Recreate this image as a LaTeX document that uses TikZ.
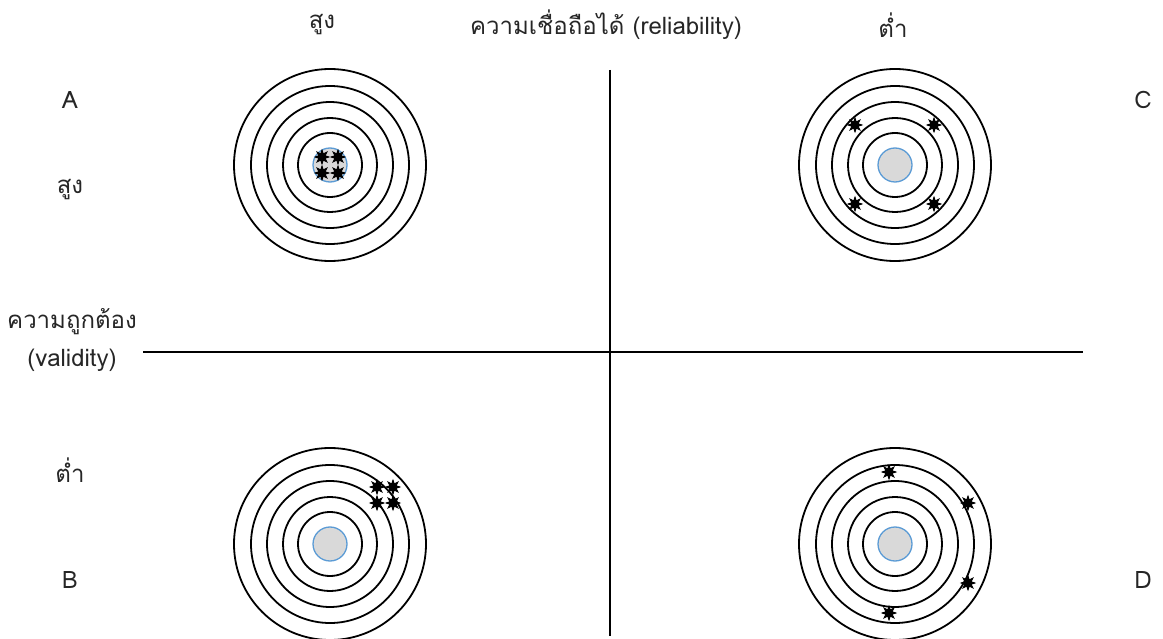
\documentclass[tikz,border=0pt]{standalone}
\usepackage{fontspec}
\setmainfont[Script=Thai]{Loma}
\usetikzlibrary{shapes.geometric}
\definecolor{bullfill}{HTML}{D9D9D9}
\definecolor{bullline}{HTML}{5B9BD5}
\tikzset{
  ring/.style={circle, draw=black, line width=1.8pt, minimum size=#1, inner sep=0pt},
  bull/.style={circle, draw=bullline, fill=bullfill, line width=1.3pt, minimum size=34pt, inner sep=0pt},
  hit/.style={star, star points=8, star point ratio=2.0, fill=black, draw=black, line width=0.8pt, minimum size=14pt, inner sep=0pt},
  axis/.style={line width=2.6pt, black},
  lbl/.style={font=\fontsize{24}{28}\selectfont, inner sep=0pt, text=black!85}
}
\begin{document}
\begin{tikzpicture}[x=1pt,y=-1pt]
\useasboundingbox (0,0) rectangle (1163,639);
% axes
\coordinate (vt) at (610,70);
\coordinate (vb) at (610,636);
\coordinate (hl) at (143,352);
\coordinate (hr) at (1083,352);
\draw[axis] (vt) -- (vb);
\draw[axis] (hl) -- (hr);
% targets
\foreach \n/\cx/\cy in {A/330/165, C/895/165, B/330/544, D/895/544}{
  \foreach \r [count=\i] in {192,158,126,94,64}{
    \node[ring=\r pt] (t\n\i) at (\cx,\cy) {};
  }
  \node[bull] (b\n) at (\cx,\cy) {};
}
% hits A
\node[hit] (hA1) at (322,157) {};
\node[hit] (hA2) at (338,157) {};
\node[hit] (hA3) at (322,173) {};
\node[hit] (hA4) at (338,173) {};
% hits C
\node[hit] (hC1) at (855,125) {};
\node[hit] (hC2) at (934,125) {};
\node[hit] (hC3) at (855,204) {};
\node[hit] (hC4) at (934,204) {};
% hits B
\node[hit] (hB1) at (377,487) {};
\node[hit] (hB2) at (393,487) {};
\node[hit] (hB3) at (377,503) {};
\node[hit] (hB4) at (393,503) {};
% hits D
\node[hit] (hD1) at (889,472) {};
\node[hit] (hD2) at (968,503) {};
\node[hit] (hD3) at (968,583) {};
\node[hit] (hD4) at (889,613) {};
% labels
\node[lbl] (top1) at (322,25) {สูง};
\node[lbl] (top2) at (606,25) {ความเชื่อถือได้ (reliability)};
\node[lbl] (top3) at (893,25) {ต่ำ};
\node[lbl] (lA) at (70,100) {A};
\node[lbl] (lhi) at (70,190) {สูง};
\node[lbl] (lv1) at (72,322) {ความถูกต้อง};
\node[lbl] (lv2) at (72,360) {(validity)};
\node[lbl] (llo) at (70,470) {ต่ำ};
\node[lbl] (lB) at (70,580) {B};
\node[lbl] (lC) at (1143,100) {C};
\node[lbl] (lD) at (1143,580) {D};
\end{tikzpicture}
\end{document}
